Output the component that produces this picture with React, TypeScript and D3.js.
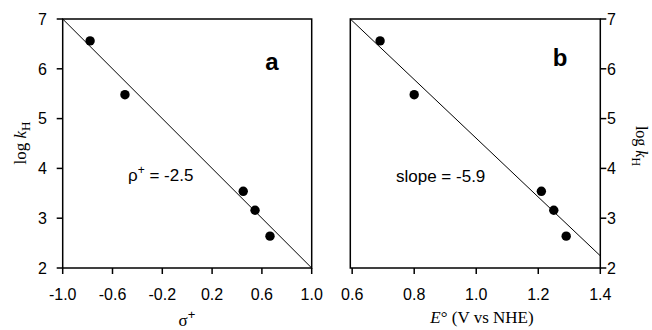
import React from "react";
import * as d3 from "d3";

// data
const logKH = [6.56, 5.48, 3.54, 3.16, 2.64];
const sigmaPlus = [-0.78, -0.5, 0.45, 0.545, 0.665];
const eStandard = [0.69, 0.8, 1.21, 1.25, 1.29];
const fitA = [[-1.0, 7.0], [1.0, 2.0]];
const fitB = [[0.594, 7.0], [1.4, 2.245]];
const ticksA = [-1.0, -0.6, -0.2, 0.2, 0.6, 1.0];
const ticksB = [0.6, 0.8, 1.0, 1.2, 1.4];
const ticksY = [2, 3, 4, 5, 6, 7];

const W = 652;
const H = 330;
const top = 19;
const bottom = 268;
const sans = "'Liberation Sans', Arial, sans-serif";
const serif = "'Liberation Serif', 'Times New Roman', serif";

const y = d3.scaleLinear().domain([2, 7]).range([bottom, top]);

function Panel({ x, xs, fit, ticks, side }) {
  const [x0, x1] = x.range();
  const line = d3
    .line()
    .x((d) => x(d[0]))
    .y((d) => y(d[1]));
  return (
    <g>
      <rect x={x0} y={top} width={x1 - x0} height={bottom - top} fill="none" stroke="#000" strokeWidth={1.5} />
      <path d={line(fit)} fill="none" stroke="#000" strokeWidth={1} />
      {xs.map((v, i) => (
        <circle key={i} cx={x(v)} cy={y(logKH[i])} r={4.7} fill="#000" />
      ))}
      {ticks.map((t) => (
        <g key={t}>
          <line x1={x(t)} x2={x(t)} y1={bottom} y2={bottom + 6} stroke="#000" strokeWidth={1.5} />
          <text x={x(t)} y={300} textAnchor="middle" fontFamily={sans} fontSize={16}>
            {d3.format(".1f")(t).replace("−", "-")}
          </text>
        </g>
      ))}
      {ticksY.map((t) =>
        side === "left" ? (
          <g key={t}>
            <line x1={x0 - 6} x2={x0} y1={y(t)} y2={y(t)} stroke="#000" strokeWidth={1.5} />
            <text x={47} y={y(t)} dy="0.36em" textAnchor="end" fontFamily={sans} fontSize={16}>
              {t}
            </text>
          </g>
        ) : (
          <g key={t}>
            <line x1={x1} x2={x1 + 6} y1={y(t)} y2={y(t)} stroke="#000" strokeWidth={1.5} />
            <text x={607} y={y(t)} dy="0.36em" textAnchor="start" fontFamily={sans} fontSize={16}>
              {t}
            </text>
          </g>
        )
      )}
    </g>
  );
}

export default function App() {
  const xA = d3.scaleLinear().domain([-1, 1]).range([62.7, 311.7]);
  const xB = d3.scaleLinear().domain([0.594, 1.4]).range([350.3, 600.3]);
  return (
    <svg width={W} height={H} style={{ position: "absolute", left: 0, top: 0, background: "#fff" }}>
      <Panel x={xA} xs={sigmaPlus} fit={fitA} ticks={ticksA} side="left" />
      <Panel x={xB} xs={eStandard} fit={fitB} ticks={ticksB} side="right" />

      <text x={272} y={70} textAnchor="middle" fontFamily={sans} fontSize={24} fontWeight="bold">a</text>
      <text x={560} y={66} textAnchor="middle" fontFamily={sans} fontSize={24} fontWeight="bold">b</text>

      <text x={128} y={181} fontFamily={sans} fontSize={17}>
        ρ<tspan dy={-7} fontSize={12}>+</tspan>
        <tspan dy={7}> = -2.5</tspan>
      </text>
      <text x={396} y={182} fontFamily={sans} fontSize={17}>slope = -5.9</text>

      <text x={187} y={326} textAnchor="middle" fontFamily={serif} fontSize={17}>
        σ<tspan dy={-7} fontSize={13} fontFamily={sans}>+</tspan>
      </text>
      <text x={482} y={323} textAnchor="middle" fontFamily={serif} fontSize={17}>
        <tspan fontStyle="italic">E</tspan>° (V vs NHE)
      </text>

      <text transform="translate(26,143) rotate(-90)" textAnchor="middle" fontFamily={serif} fontSize={17}>
        log <tspan fontStyle="italic">k</tspan>
        <tspan dy={4} fontSize={13}>H</tspan>
      </text>
      <text transform="translate(636,146) rotate(90)" textAnchor="middle" fontFamily={serif} fontSize={16}>
        log <tspan fontStyle="italic">k</tspan>
        <tspan dy={4} fontSize={12}>H</tspan>
      </text>
    </svg>
  );
}
